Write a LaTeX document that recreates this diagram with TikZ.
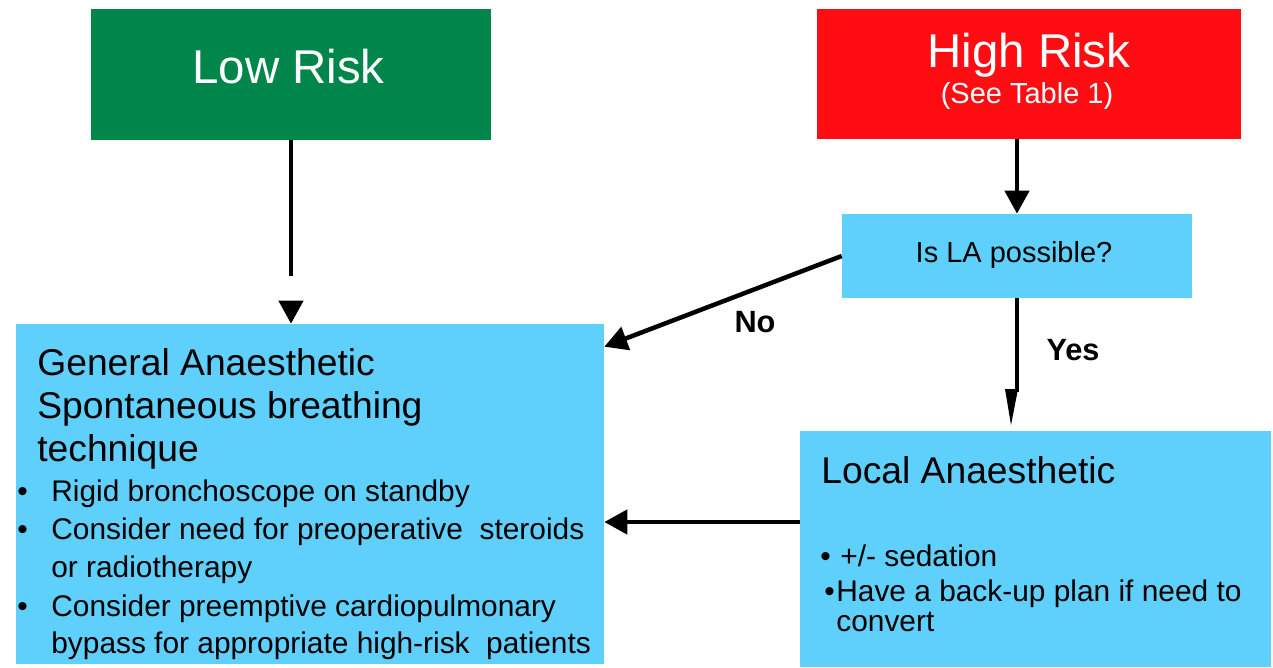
\documentclass[tikz,border=0pt]{standalone}
\usepackage{fontspec}
\setmainfont{Liberation Sans}
\usetikzlibrary{arrows.meta,calc}
\definecolor{lowgreen}{RGB}{0,133,75}
\definecolor{highred}{RGB}{255,13,19}
\definecolor{boxblue}{RGB}{94,208,251}
\begin{document}
\begin{tikzpicture}[x=0.02cm,y=-0.02cm,
  box/.style={rectangle, inner sep=0pt, draw=none},
  conn/.style={line width=0.09cm, draw=black},
  tipped/.style={-{Triangle[length=0.46cm,width=0.48cm]}},
  txt/.style={inner sep=0pt, anchor=base west, text=black},
  ctxt/.style={inner sep=0pt, anchor=base, text=black},
  riskfont/.style={font=\fontsize{27}{32}\selectfont},
  subfont/.style={font=\fontsize{16.5}{20}\selectfont},
  titlefont/.style={font=\fontsize{21.2}{25}\selectfont},
  bodyfont/.style={font=\fontsize{17}{20}\selectfont},
  labelfont/.style={font=\bfseries\fontsize{17.5}{20}\selectfont},
]
\useasboundingbox (0,0) rectangle (1273,667);
\fill[white] (0,0) rectangle (1273,667);

% boxes
\node[box, fill=lowgreen, minimum width=8.0cm, minimum height=2.62cm] (low) at (291,74.5) {};
\node[box, fill=highred, minimum width=8.48cm, minimum height=2.6cm] (high) at (1029,74) {};
\node[box, fill=boxblue, minimum width=7.0cm, minimum height=1.68cm] (isla) at (1017,256) {};
\node[box, fill=boxblue, minimum width=11.76cm, minimum height=6.8cm] (ga) at (310,494) {};
\node[box, fill=boxblue, minimum width=9.42cm, minimum height=4.72cm] (la) at (1035.5,549) {};

% box texts
\node[ctxt, riskfont, text=white] (lowt) at (288.5,83) {Low Risk};
\node[ctxt, riskfont, text=white] (hight) at (1029,67) {High Risk};
\node[ctxt, subfont, text=white] (highs) at (1027,103) {(See Table 1)};
\node[ctxt, subfont] (islat) at (1014,262) {Is LA possible?};

\node[txt, titlefont] (ga1) at (37,375) {General Anaesthetic};
\node[txt, titlefont] (ga2) at (37,418) {Spontaneous breathing};
\node[txt, titlefont] (ga3) at (37,461) {technique};
\node[txt, bodyfont] (gab1) at (17,501) {•};
\node[txt, bodyfont] (gal1) at (51,501) {Rigid bronchoscope on standby};
\node[txt, bodyfont] (gab2) at (17,539) {•};
\node[txt, bodyfont] (gal2) at (51,539) {Consider need for preoperative\ \ steroids};
\node[txt, bodyfont] (gal3) at (51,577) {or radiotherapy};
\node[txt, bodyfont] (gab3) at (17,616) {•};
\node[txt, bodyfont] (gal4) at (51,616) {Consider preemptive cardiopulmonary};
\node[txt, bodyfont] (gal5) at (51,653) {bypass for appropriate high-risk\ \ patients};

\node[txt, titlefont] (la1) at (821,483) {Local Anaesthetic};
\node[txt, bodyfont] (lab1) at (820,566) {•};
\node[txt, bodyfont] (lal1) at (840,566) {+/- sedation};
\node[txt, bodyfont] (lab2) at (824,601) {•};
\node[txt, bodyfont] (lal2) at (836,601) {Have a back-up plan if need to};
\node[txt, bodyfont] (lal3) at (836,631) {convert};

% connectors
\draw[conn, tipped, dash pattern=on 2.72cm off 5cm] (low.south) -- (ga.north -| low.south);
\draw[conn, tipped] (isla.north |- high.south) -- (isla.north);
\coordinate (noend) at ($(ga.north east)+(0,23)$);
\draw[conn, tipped] (isla.west) -- (noend);
\coordinate (ybend) at (1017,392);
\draw[conn] (isla.south) -- (ybend);
\coordinate (ytl) at (1005,389);
\coordinate (ytr) at (1018,389);
\coordinate (ytip) at (1011,425);
\fill[black] (ytl) -- (ytr) -- (ytip) -- cycle;
\coordinate (lay) at (0,522);
\draw[conn, tipped] (la.west |- lay) -- (ga.east |- lay);

% labels
\node[ctxt, labelfont] (nol) at (755,332) {No};
\node[ctxt, labelfont] (yesl) at (1073,360) {Yes};
\end{tikzpicture}
\end{document}
